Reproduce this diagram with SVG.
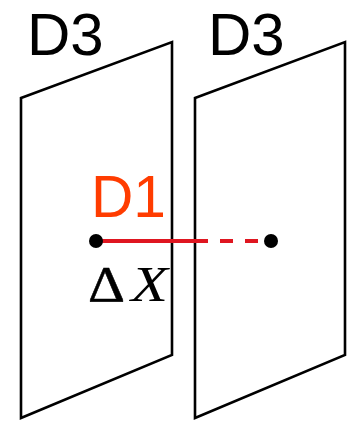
<svg xmlns="http://www.w3.org/2000/svg" width="354" height="421" viewBox="0 0 354 421">
<style>
.panel{fill:#fff;stroke:#000;stroke-width:2.6;stroke-linejoin:miter}
.lbl{font-family:"Liberation Sans",Arial,sans-serif;font-size:60px;fill:#000}
.d1{font-family:"Liberation Sans",Arial,sans-serif;font-size:60px;fill:#ff3c00}
.math{font-family:"Liberation Serif","Times New Roman",serif;font-size:50px;fill:#000}
.dot{fill:#000}
.link{stroke:#df1620;stroke-width:4;fill:none}
</style>
<rect width="354" height="421" fill="#fff"/>
<g id="plane-left">
<polygon class="panel" points="21,98 172,42 172,355 21,418"/>
<text class="lbl" x="27" y="55">D3</text>
</g>
<g id="plane-right">
<polygon class="panel" points="195,98 345,42 345,355 195,418"/>
<text class="lbl" x="208" y="55">D3</text>
</g>
<g id="connectors">
<line class="link" x1="97" y1="241" x2="208" y2="241"/>
<line class="link" x1="220" y1="241" x2="260" y2="241" stroke-dasharray="13,12"/>
</g>
<g id="point-a">
<circle class="dot" cx="96" cy="241" r="7"/>
<text class="d1" x="91" y="217" textLength="75" lengthAdjust="spacingAndGlyphs">D1</text>
<text class="math" x="88" y="301" textLength="37" lengthAdjust="spacingAndGlyphs" stroke="#000" stroke-width="0.5">Δ</text>
<text class="math" x="131" y="301" font-style="italic" textLength="37" lengthAdjust="spacingAndGlyphs">X</text>
</g>
<g id="point-b">
<circle class="dot" cx="271" cy="241" r="7"/>
</g>
</svg>
